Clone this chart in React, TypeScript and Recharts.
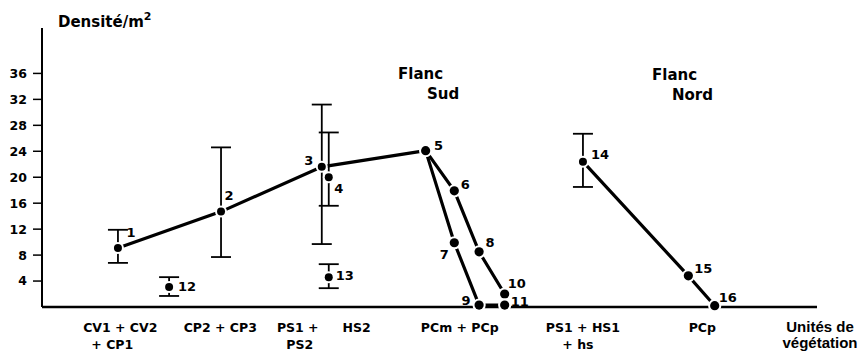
import React from 'react';
import { ScatterChart, Scatter, XAxis, YAxis, ErrorBar } from 'recharts';

// ---- data ----
const pointIds = [1, 2, 3, 4, 5, 6, 7, 8, 9, 10, 11, 12, 13, 14, 15, 16];
const xPos = [9.8, 23.1, 36.1, 37.0, 49.5, 53.2, 53.2, 56.4, 56.4, 59.7, 59.7, 16.4, 37.0, 69.8, 83.4, 86.8];
const density = [9.1, 14.7, 21.6, 20.0, 24.1, 17.9, 9.9, 8.5, 0.3, 2.0, 0.3, 3.1, 4.6, 22.4, 4.8, 0.2];

const errIds = [1, 2, 3, 4, 12, 13, 14];
const errLow = [6.8, 7.7, 9.7, 15.6, 1.7, 2.9, 18.5];
const errHigh = [11.9, 24.6, 31.2, 26.9, 4.6, 6.6, 26.7];

const paths = [
  [1, 2, 3, 5],
  [5, 6, 8, 10],
  [5, 7, 9, 11],
  [14, 15, 16],
];

const categoryLabels = [
  ['CV1 + CV2', '+ CP1'],
  ['CP2 + CP3'],
  ['PS1 +', 'PS2'],
  ['HS2'],
  ['PCm + PCp'],
  ['PS1 + HS1', '+ hs'],
  ['PCp'],
];
const categoryPos = [10.1, 23.0, 33.0, 40.6, 53.9, 69.8, 85.2];
const yTicks = [4, 8, 12, 16, 20, 24, 28, 32, 36];

// ---- styling ----
const FONT = '"DejaVu Sans", "Liberation Sans", sans-serif';
const NARROW = '"Liberation Sans", Arial, sans-serif';
const labelOffset: Record<number, [number, number]> = {
  1: [13, -15], 2: [8, -16], 3: [-13, -6], 4: [10, 11], 5: [13, -5], 6: [11, -6],
  7: [-10, 12], 8: [11, -9], 9: [-13, -5], 10: [12, -11], 11: [15, -4], 12: [18, 0],
  13: [16, -2], 14: [17, -7], 15: [15, -7], 16: [13, -8],
};
const lineDx = [[0, -8], [0], [0, 2], [0], [0], [0, -5], [0]];

const points = pointIds.map((id, i) => ({ id, x: xPos[i], y: density[i] }));
const byId = (id: number) => points.find((p) => p.id === id)!;
const errorData = errIds.map((id, i) => {
  const p = byId(id);
  return { ...p, err: [p.y - errLow[i], errHigh[i] - p.y] };
});

const renderNone = () => <g />;

const renderDot = (props: any) => {
  const { cx, cy, payload } = props;
  if (cx == null || cy == null) return <g />;
  const id = payload.id;
  const r = errIds.includes(id) ? 4 : 4.6;
  const [dx, dy] = labelOffset[id] || [12, -8];
  return (
    <g>
      <circle cx={cx} cy={cy} r={r} fill="#000" stroke="#fff" strokeWidth={4} />
      <circle cx={cx} cy={cy} r={r} fill="#000" />
      <text
        x={cx + dx}
        y={cy + dy}
        textAnchor="middle"
        dominantBaseline="central"
        fontFamily={FONT}
        fontWeight="bold"
        fontSize={13}
        fill="#000"
      >
        {id}
      </text>
    </g>
  );
};

const CatTick = (props: any) => {
  const { x, y, payload } = props;
  const idx = categoryPos.indexOf(payload.value);
  const lines = idx >= 0 ? categoryLabels[idx] : [];
  return (
    <g>
      {lines.map((t, i) => (
        <text
          key={i}
          x={x + (lineDx[idx]?.[i] ?? 0)}
          y={y + 20 + i * 17}
          textAnchor="middle"
          dominantBaseline="central"
          fontFamily={FONT}
          fontWeight="bold"
          fontSize={12.5}
          fill="#000"
        >
          {t}
        </text>
      ))}
    </g>
  );
};

export default function App() {
  return (
    <div style={{ position: 'relative', width: 864, height: 354, background: '#fff', overflow: 'hidden' }}>
      <style>{'html,body{margin:0;padding:0;overflow:hidden;background:#fff}'}</style>
      <ScatterChart width={864} height={354} margin={{ top: 28, right: 47, bottom: 0, left: 0 }}>
        <XAxis
          type="number"
          dataKey="x"
          domain={[0, 100]}
          ticks={categoryPos}
          interval={0}
          tick={<CatTick />}
          tickLine={false}
          tickSize={0}
          tickMargin={0}
          axisLine={{ stroke: '#000', strokeWidth: 2.5 }}
          height={47}
        />
        <YAxis
          type="number"
          dataKey="y"
          domain={[0, 43]}
          ticks={yTicks}
          interval={0}
          width={42}
          tickSize={9}
          tickMargin={6}
          axisLine={{ stroke: '#000', strokeWidth: 2 }}
          tickLine={{ stroke: '#000', strokeWidth: 1.5 }}
          tick={{ fill: '#000', fontSize: 12.5, fontWeight: 'bold', fontFamily: FONT }}
        />
        {paths.map((path, i) => (
          <Scatter
            key={'path' + i}
            data={path.map(byId)}
            line={{ stroke: '#000', strokeWidth: 3.2 }}
            shape={renderNone}
            isAnimationActive={false}
          />
        ))}
        <Scatter data={points} shape={renderDot} isAnimationActive={false} />
        <Scatter data={errorData} shape={renderNone} isAnimationActive={false}>
          <ErrorBar dataKey="err" direction="y" width={10} stroke="#000" strokeWidth={1.8} isAnimationActive={false} />
        </Scatter>
      </ScatterChart>
      <svg
        width={864}
        height={354}
        style={{ position: 'absolute', left: 0, top: 0, pointerEvents: 'none' }}
      >
        <g fontFamily={FONT} fontWeight="bold" fill="#000">
          <text x={58} y={22} dominantBaseline="central" fontSize={15}>
            Densité/m
            <tspan fontSize={11} dy={-6}>2</tspan>
          </text>
          <text x={398} y={74} dominantBaseline="central" fontSize={15}>Flanc</text>
          <text x={427} y={94} dominantBaseline="central" fontSize={15}>Sud</text>
          <text x={652} y={75} dominantBaseline="central" fontSize={15}>Flanc</text>
          <text x={672} y={95} dominantBaseline="central" fontSize={15}>Nord</text>
          <text x={820} y={326} textAnchor="middle" dominantBaseline="central" fontSize={15} fontFamily={NARROW}>Unités de</text>
          <text x={820} y={342} textAnchor="middle" dominantBaseline="central" fontSize={15} fontFamily={NARROW}>végétation</text>
        </g>
      </svg>
    </div>
  );
}
